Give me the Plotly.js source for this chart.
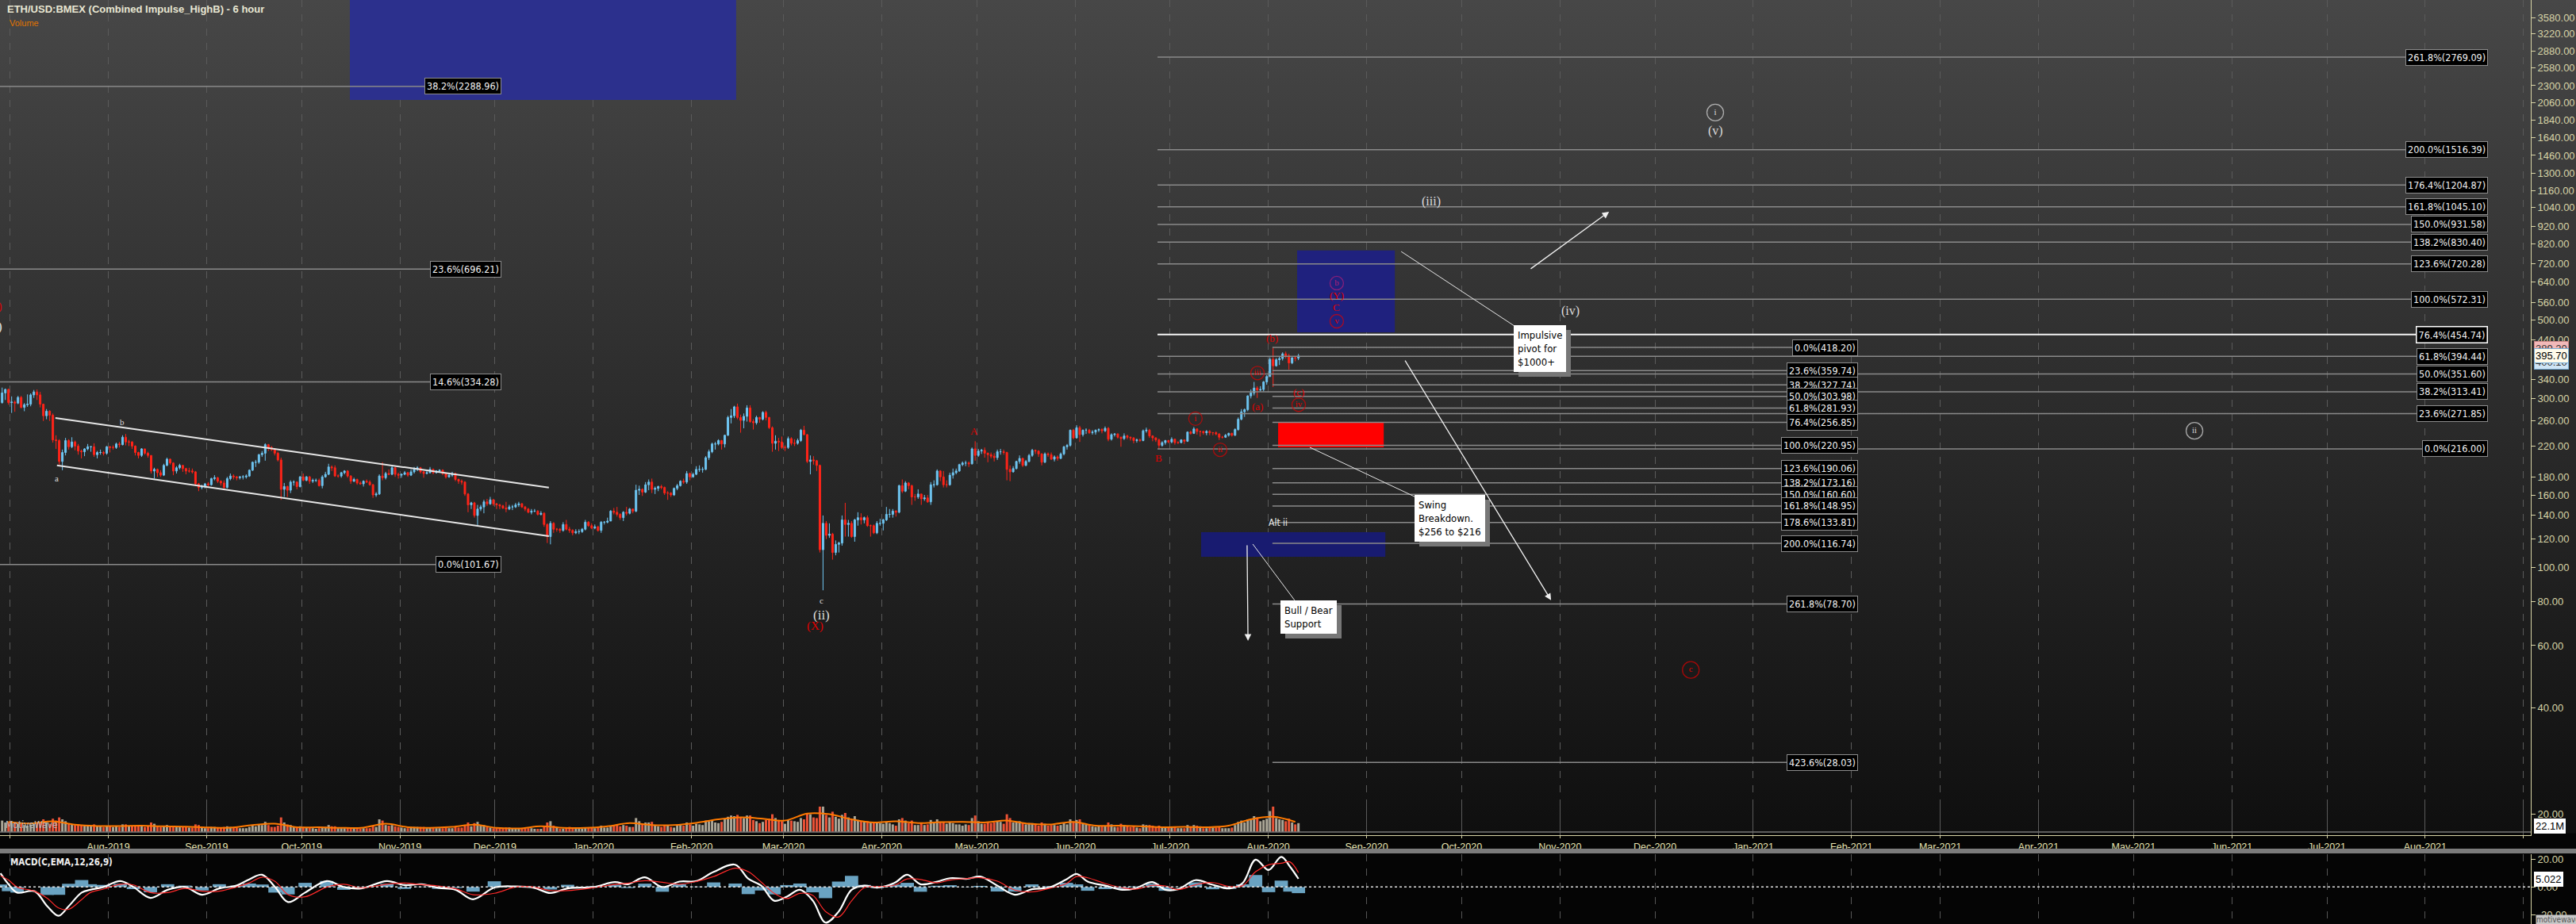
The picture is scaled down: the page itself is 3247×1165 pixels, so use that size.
<!DOCTYPE html>
<html><head><meta charset="utf-8">
<script src="https://cdn.plot.ly/plotly-3.0.1.min.js"></script>
<style>
html,body{margin:0;padding:0;}
body{width:3247px;height:1165px;overflow:hidden;background:linear-gradient(to bottom,#474747 0px,#0f0f0f 1050px,#050505 1051px,#050505 1165px);}
#chart{width:3247px;height:1165px;}
</style></head><body><div id="chart"></div>
<script>
// ---------------- DATA (daily candles) ----------------
const candleStart = '2019-06-28';
const open = [
292,311,318,
292,293,291,302,283,288,289,307,313,307,289,268,276,269,229,228,199,211,228,219,226,220,213,212,216,219,219,208,211,211,210,
219,218,218,223,222,233,226,226,220,211,207,216,210,207,187,189,185,182,194,202,197,187,191,194,190,187,187,186,172,168,169,
172,171,178,179,175,173,168,178,181,180,179,180,180,181,188,198,198,208,210,222,218,215,210,201,166,169,165,174,174,169,
180,176,180,175,176,176,170,180,183,192,191,181,181,185,187,181,175,177,173,172,175,174,171,160,161,181,179,184,183,191,183,
182,183,185,182,186,189,191,186,184,185,189,185,187,188,184,180,182,184,177,175,174,161,150,152,140,146,148,153,151,155,
151,150,149,147,146,148,148,150,151,148,146,143,144,144,141,142,132,122,133,128,128,127,132,128,127,125,126,126,128,134,131,
129,130,127,134,134,135,144,143,141,138,143,142,146,144,165,166,163,171,174,166,167,169,168,162,162,160,167,170,175,174,184,
180,183,189,189,189,204,212,223,223,228,223,236,265,268,284,265,260,267,282,258,256,265,262,274,265,248,224,227,226,
218,218,231,224,224,228,244,237,199,201,200,194,112,133,123,124,110,116,117,136,132,133,122,136,138,136,138,131,131,125,133,
133,136,141,141,144,143,170,164,173,170,158,158,161,156,157,153,171,171,187,180,171,171,182,185,187,195,197,197,196,216,
207,213,214,210,208,206,204,212,212,211,189,186,190,199,203,194,199,207,214,213,209,198,209,208,202,205,203,209,219,221,244,
232,248,237,244,244,240,241,244,245,243,247,230,237,238,233,231,235,233,232,228,229,228,243,244,235,232,229,221,225,228,
226,230,225,225,229,227,241,239,246,242,242,240,242,240,240,238,233,233,236,239,236,245,262,275,279,305,311,321,317,318,334,
346,387,371,386,389,401,396,378,391,390];
const high = [
322,320,320,
304,296,305,305,291,308,310,317,318,313,290,280,278,272,236,230,215,232,230,233,228,223,215,217,223,220,224,213,215,213,220,
220,221,225,226,236,238,229,227,221,212,217,216,212,207,191,190,188,196,204,203,198,193,196,194,191,191,190,187,173,171,173,
174,179,182,180,176,176,180,184,183,181,181,182,183,189,199,201,209,213,224,223,220,217,212,204,173,170,176,176,175,181,
184,181,181,178,178,178,182,186,196,194,194,183,186,188,188,182,179,178,175,176,177,176,172,163,183,198,186,189,193,192,185,
184,187,186,189,192,193,192,187,187,192,190,188,189,189,185,183,186,185,178,177,175,162,153,153,150,150,155,156,158,156,
152,151,150,153,150,150,152,153,152,149,147,146,146,145,144,143,133,135,134,129,129,134,136,130,128,128,128,129,136,135,133,
132,131,135,135,138,145,147,148,142,144,148,147,146,171,170,167,174,177,178,169,170,171,169,164,163,168,172,176,178,187,185,
185,193,194,192,206,215,225,226,230,229,237,268,280,286,290,270,272,287,287,262,268,266,276,277,266,250,236,232,234,
221,234,233,230,231,246,251,238,207,206,201,195,140,135,133,125,119,118,140,152,136,135,137,143,142,139,140,132,132,135,137,
137,148,146,146,145,171,177,175,174,171,161,166,161,160,160,174,176,189,188,187,176,185,190,190,196,199,200,199,218,227,
216,216,218,211,211,210,215,216,215,212,194,193,200,207,204,201,209,216,215,214,210,211,211,211,207,207,211,220,223,245,246,
252,251,245,247,246,244,245,247,247,250,249,239,239,239,234,239,237,234,233,231,231,245,248,246,236,233,231,227,229,229,
233,231,227,230,229,242,243,249,247,243,243,244,244,241,242,239,235,238,240,240,247,265,280,281,306,318,334,325,325,336,349,
392,418,390,395,405,407,401,392,395,401];
const low = [
290,297,288,
273,275,289,281,276,284,285,301,297,283,259,262,259,225,216,195,188,207,215,217,214,208,203,206,214,212,205,203,208,207,208,
211,215,216,218,221,221,220,216,207,203,205,208,204,184,178,180,180,181,193,195,182,184,189,186,183,185,184,170,164,166,167,
169,170,176,173,170,165,167,176,177,176,177,177,178,180,187,192,196,205,200,213,213,207,199,155,158,158,162,170,166,168,
175,175,172,173,174,169,167,179,182,187,180,179,179,183,179,172,174,171,171,169,173,170,157,158,160,176,177,182,182,180,178,
179,182,180,181,184,187,184,179,183,184,183,184,185,182,178,179,180,175,172,171,159,143,146,138,131,144,142,149,150,149,
146,146,146,143,145,145,147,148,147,144,142,141,143,140,140,130,117,116,125,126,125,126,127,125,123,124,124,125,127,130,128,
128,126,125,132,133,135,141,139,136,135,140,141,142,143,160,159,162,165,162,161,164,166,160,155,158,159,165,169,172,172,176,
179,182,186,185,188,201,210,215,221,215,218,235,255,264,262,240,247,258,256,245,253,256,260,260,246,212,215,213,216,
213,216,221,220,222,226,236,197,183,195,187,110,86,120,121,105,108,110,115,122,122,121,118,131,132,133,130,122,124,124,131,
127,135,138,138,139,142,162,163,166,150,154,156,150,154,152,150,168,170,175,168,168,170,178,183,186,193,193,192,195,200,
205,209,204,198,203,199,201,208,208,176,175,185,189,196,192,193,198,205,209,205,194,197,205,201,199,200,202,207,215,219,230,
231,226,234,238,238,237,237,241,239,241,227,228,234,231,219,229,230,228,224,225,226,227,240,232,227,226,216,219,222,224,
224,222,223,224,223,226,237,238,237,234,237,236,236,236,236,229,231,232,234,234,235,243,260,266,276,300,306,301,314,314,328,
345,323,369,373,384,389,362,375,382,385];
const close = [
311,318,292,
293,291,302,283,288,289,307,313,307,289,268,276,269,229,228,199,211,228,219,226,220,213,212,216,219,219,208,211,211,210,219,
218,218,223,222,233,226,226,220,211,207,216,210,207,187,189,185,182,194,202,197,187,191,194,190,187,187,186,172,168,169,172,
171,178,179,175,173,168,178,181,180,179,180,180,181,188,198,198,208,210,222,218,215,210,201,166,169,165,174,174,169,180,
176,180,175,176,176,170,180,183,192,191,181,181,185,187,181,175,177,173,172,175,174,171,160,161,181,179,184,183,191,183,182,
183,185,182,186,189,191,186,184,185,189,185,187,188,184,180,182,184,177,175,174,161,150,152,140,146,148,153,151,155,151,
150,149,147,146,148,148,150,151,148,146,143,144,144,141,142,132,122,133,128,128,127,132,128,127,125,126,126,128,134,131,129,
130,127,134,134,135,144,143,141,138,143,142,146,144,165,166,163,171,174,166,167,169,168,162,162,160,167,170,175,174,184,180,
183,189,189,189,204,212,223,223,228,223,236,265,268,284,265,260,267,282,258,256,265,262,274,265,248,224,227,226,218,
218,231,224,224,228,244,237,199,201,200,194,112,133,123,124,110,116,117,136,132,133,122,136,138,136,138,131,131,125,133,133,
136,141,141,144,143,170,164,173,170,158,158,161,156,157,153,171,171,187,180,171,171,182,185,187,195,197,197,196,216,207,
213,214,210,208,206,204,212,212,211,189,186,190,199,203,194,199,207,214,213,209,198,209,208,202,205,203,209,219,221,244,232,
248,237,244,244,240,241,244,245,243,247,230,237,238,233,231,235,233,232,228,229,228,243,244,235,232,229,221,225,228,226,
230,225,225,229,227,241,239,246,242,242,240,242,240,240,238,233,233,236,239,236,245,262,275,279,305,311,321,317,318,334,346,
387,371,386,389,401,396,378,391,390,395.7];
const volume = [
180,150,160,
170,140,130,150,110,100,120,130,140,160,200,150,130,210,180,230,200,170,130,120,110,120,100,100,110,90,120,100,90,80,100,
90,80,90,80,120,120,90,90,100,90,90,80,90,150,130,100,80,100,110,90,100,80,80,80,80,70,70,120,110,70,60,
60,80,80,70,70,80,90,80,70,70,60,60,60,80,110,90,120,110,160,110,80,80,100,230,150,120,110,80,70,90,
80,70,70,60,50,60,80,80,110,90,90,60,60,60,70,70,60,60,50,60,60,60,100,80,200,180,110,100,110,90,80,
70,60,60,80,80,80,80,80,60,70,70,60,60,60,70,60,60,80,70,70,110,150,90,140,160,100,110,80,70,60,
60,60,60,70,70,60,50,60,60,60,60,60,50,50,50,90,150,170,100,70,50,50,70,80,60,50,60,50,70,70,70,
60,70,100,70,70,100,110,120,90,110,100,80,80,220,170,130,150,150,160,100,90,80,100,110,80,70,110,120,100,150,120,
100,130,120,110,180,170,180,150,140,160,200,240,260,250,270,230,220,260,260,190,170,140,160,190,210,280,220,190,170,
130,190,180,170,160,220,200,300,280,230,220,450,500,270,230,320,240,210,270,300,230,200,250,190,170,170,170,150,140,150,140,
130,150,140,120,100,200,220,180,140,180,110,110,140,110,120,190,150,200,160,160,130,150,140,120,120,100,120,110,220,260,
170,130,130,150,140,150,170,160,130,280,220,150,160,170,140,120,140,140,120,100,150,130,100,110,110,100,110,140,120,200,160,
190,200,130,120,110,90,80,90,90,100,150,120,80,80,130,110,90,80,90,70,60,120,110,110,100,80,100,70,70,70,
80,80,60,60,60,110,90,110,100,90,60,60,80,70,70,80,60,60,60,70,110,160,180,150,200,190,250,230,170,190,210,
330,400,220,200,190,170,210,150,120,140];
const volMAStart = '2019-06-30';
const volMA = [160,135,170,115,95,95,100,90,85,72,68,110,130,75,75,65,70,130,75,65,80,115,65,57,90,65,65,90,140,110,110,145,200,230,210,180,290,280,200,150,170,140,155,160,150,180,130,120,160,100,100,90,75,80,75,100,200,240,160];

// MACD (12,26,9)
const macdDates = ['2019-06-28 00:00','2019-06-30 12:00','2019-07-03 05:00','2019-07-08 17:00','2019-07-12 17:00','2019-07-16 07:00','2019-07-19 12:00','2019-07-23 14:00','2019-07-26 07:00','2019-07-30 10:00',
'2019-08-04 19:00','2019-08-08 22:00','2019-08-14 07:00','2019-08-19 17:00','2019-08-25 05:00','2019-08-30 14:00','2019-09-05 00:00','2019-09-10 10:00','2019-09-14 12:00','2019-09-18 12:00',
'2019-09-22 14:00','2019-09-26 17:00','2019-10-02 02:00','2019-10-08 22:00','2019-10-14 07:00','2019-10-19 19:00','2019-10-27 22:00','2019-11-02 10:00','2019-11-07 19:00','2019-11-13 05:00',
'2019-11-18 14:00','2019-11-24 02:00','2019-11-30 19:00','2019-12-07 14:00','2019-12-13 02:00','2019-12-18 12:00','2019-12-23 22:00','2020-01-01 02:00','2020-01-07 19:00','2020-01-11 22:00',
'2020-01-17 07:00','2020-01-22 19:00','2020-01-28 05:00','2020-02-02 14:00','2020-02-08 00:00','2020-02-14 19:00','2020-02-18 22:00','2020-02-23 00:00','2020-02-27 02:00','2020-03-02 02:00',
'2020-03-06 05:00','2020-03-10 07:00','2020-03-14 07:00','2020-03-18 10:00','2020-03-22 12:00','2020-03-26 12:00','2020-03-30 14:00','2020-04-05 00:00','2020-04-09 02:00','2020-04-13 05:00',
'2020-04-18 14:00','2020-04-22 14:00','2020-04-28 02:00','2020-05-02 02:00','2020-05-07 12:00','2020-05-13 00:00','2020-05-18 10:00','2020-05-23 19:00','2020-05-29 07:00','2020-06-01 12:00',
'2020-06-05 00:00','2020-06-10 12:00','2020-06-15 22:00','2020-06-20 00:00','2020-06-25 10:00','2020-06-29 12:00','2020-07-03 12:00','2020-07-09 00:00','2020-07-14 10:00','2020-07-19 19:00',
'2020-07-23 22:00','2020-07-28 00:00','2020-08-01 02:00','2020-08-05 02:00','2020-08-07 19:00','2020-08-10 12:00'];
const macdLine = [9.8,2,-4,-3,-13.7,-20.6,-13.7,-4,-2,0, 4.3,0,-7.8,-2,0,-5.5,-1,1,5.5,8.8, 0,-10.8,-4,4.3,0,-1,4.3,1.4,2,-0.6,
-2,-8.8,-0.4,0.4,-0.4,-4.3,-1,0,3.5,2, 6.9,0,3.9,4.3,10.8,16,5.9,1,-9.8,-6.9, -2,-9.8,-25.5,-17.6,-2,1,-0.4,2.9,8.8,2,
3.9,6.3,5.9,7.5,1,-5.5,-1.6,-0.4,5.5,9.4, 3.9,1,-2,-1,3.5,-2,-1.6,4.9,1.6,-1, 2.9,19.6,12.2,21.6,14.7,5.9];
const signalLine = [8,5,0,-3,-8,-15,-16,-9,-4,-1.5, 2,1.5,-4,-4,-1,-3,-3,0,3,7, 4,-5.5,-7,0,2,-0.5,2,2.8,1.7,0.7,
-1.3,-5.5,-4.5,0,0,-2.5,-2.6,-0.5,1.8,2.7, 4.5,3.4,2,4,7.5,13.5,11,3.5,-4.5,-8.3, -4.5,-6,-17.5,-21.5,-10,-0.5,0.3,1.2,5.8,5.4,
3,5,6.1,6.7,4.2,-2.2,-3.5,-1,2.5,7.5, 6.6,2.5,-0.5,-1.5,1.2,0.7,-1.8,1.6,3.2,0.3, 1,11,15.9,17,18,10.3];
const macdHist = [1.8,-3,-4,0,-5.7,-5.6,2.3,5,2,1.5, 2.3,-1.5,-3.8,2,1,-2.5,2,1,2.5,1.8, -4,-5.3,3,4.3,-2,-0.5,2.3,-1.4,0.3,-1.3,
-0.7,-3.3,4.1,0.4,-0.4,-1.8,1.6,0.5,1.7,-0.7, 2.4,-3.4,1.9,0.3,3.3,2.5,-5.1,-2.5,-5.3,1.4, 2.5,-3.8,-8,3.9,8,1.5,-0.7,1.7,3,-3.4,
0.9,1.3,-0.2,0.8,-3.2,-3.3,1.9,0.6,3,1.9, -2.7,-1.5,-1.5,0.5,2.3,-2.7,0.2,3.3,-1.6,-1.3, 1.9,8.6,-3.7,4.6,-3.3,-4.4];

// Fibonacci sets
const fibA_pct = ['38.2%','23.6%','14.6%','0.0%'];
const fibA_val = [2288.96,696.21,334.28,101.67];
const fibB_pct = ['0.0%','23.6%','38.2%','50.0%','61.8%','76.4%','100.0%','123.6%','138.2%','150.0%','161.8%','178.6%','200.0%','261.8%','423.6%'];
const fibB_val = [418.20,359.74,327.74,303.98,281.93,256.85,220.95,190.06,173.16,160.60,148.95,133.81,116.74,78.70,28.03];
const fibC_pct = ['261.8%','200.0%','176.4%','161.8%','150.0%','138.2%','123.6%','100.0%','76.4%','61.8%','50.0%','38.2%','23.6%','0.0%'];
const fibC_val = [2769.09,1516.39,1204.87,1045.10,931.58,830.40,720.28,572.31,454.74,394.44,351.60,313.41,271.85,216.00];

// axis ticks
const priceTicks = [3580,3220,2880,2580,2300,2060,1840,1640,1460,1300,1160,1040,920,820,720,640,560,500,440,340,300,260,220,180,160,140,120,100,80,60,40,20];
const monthTicks = ['2019-07-01','2019-08-01','2019-09-01','2019-10-01','2019-11-01','2019-12-01','2020-01-01','2020-02-01','2020-03-01','2020-04-01','2020-05-01','2020-06-01','2020-07-01','2020-08-01','2020-09-01','2020-10-01','2020-11-01','2020-12-01','2021-01-01','2021-02-01','2021-03-01','2021-04-01','2021-05-01','2021-06-01','2021-07-01','2021-08-01','2021-09-01'];
const monthLabels = ['','Aug-2019','Sep-2019','Oct-2019','Nov-2019','Dec-2019','Jan-2020','Feb-2020','Mar-2020','Apr-2020','May-2020','Jun-2020','Jul-2020','Aug-2020','Sep-2020','Oct-2020','Nov-2020','Dec-2020','Jan-2021','Feb-2021','Mar-2021','Apr-2021','May-2021','Jun-2021','Jul-2021','Aug-2021',''];

// zones (time from / to, price from / to)
const zoneName  = ['upperLeft','target','swing','support'];
const zoneT0    = ['2019-10-16 05:00','2020-08-10 02:00','2020-08-04 02:00','2020-07-10 19:00'];
const zoneT1    = ['2020-02-15 02:00','2020-09-09 22:00','2020-09-06 10:00','2020-09-06 22:00'];
const zoneP0    = [2096,461.4,218.2,107];
const zoneP1    = [4100,786,256.1,125.6];
const zoneColor = ['rgb(44,48,141)','rgb(31,33,126)','#ff0000','rgb(24,27,112)'];

// wave labels
const waveText = ['(iii)','(v)','(iv)','(ii)','c','(X)','a','b','A','B','(a)','(b)','(c)','(Y)','C'];
const waveDate = ['2020-09-21 10:00','2020-12-20 00:00','2020-11-04 05:00','2020-03-13 02:00','2020-03-13 02:00','2020-03-10 22:00','2019-07-15 19:00','2019-08-05 10:00','2020-04-30 05:00','2020-06-27 12:00','2020-07-28 14:00','2020-08-02 07:00','2020-08-10 14:00','2020-08-22 14:00','2020-08-22 14:00'];
const waveP = [1082,1714,530.6,73,80.6,68,178,257,243,204,284,445,313,588,541.6];
const waveColor = ['#dcdcdc','#dcdcdc','#dcdcdc','#dcdcdc','#dcdcdc','#e00000','#dcdcdc','#dcdcdc','#e00000','#e00000','#e00000','#e00000','#e00000','#e00000','#e00000'];
const waveSize = [16,16,16,17,11,15,11,11,13,13,13,13,13,13,13];

const circText = ['i','ii','i','ii','iii','iv','b','v','c'];
const circDate = ['2020-12-20 00:00','2021-05-20 05:00','2020-07-09 00:00','2020-07-16 19:00','2020-07-28 14:00','2020-08-10 14:00','2020-08-22 14:00','2020-08-22 14:00','2020-12-12 07:00'];
const circP = [1931,243,263,214.8,354,288,635.7,496,51.2];
const circColor = ['#dcdcdc','#dcdcdc','#e00000','#e00000','#e00000','#e00000','#b0207a','#e00000','#e00000'];

// ---------------- BUILD ----------------
const NARROW = '"Liberation Sans Narrow","DejaVu Sans Condensed","Arial Narrow",sans-serif';
const SANS = '"Liberation Sans",Arial,sans-serif';
const SERIF = '"Liberation Serif","DejaVu Serif",serif';
const L = v => Math.log10(v);
const DAY = 86400000;

const t0 = Date.parse(candleStart + 'T12:00:00Z');
const cDates = close.map((_, i) => new Date(t0 + i * DAY).toISOString().slice(0, 16).replace('T', ' '));
const m0 = Date.parse(volMAStart + 'T12:00:00Z');
const maDates = volMA.map((_, i) => new Date(m0 + i * 7 * DAY).toISOString().slice(0, 16).replace('T', ' '));
if (![open, high, low, volume].every(a => a.length === close.length)) console.error('length mismatch', open.length, high.length, low.length, close.length, volume.length);

const X0 = '2019-06-27 19:42', X1 = '2021-09-03 07:40';
const traces = [];

// zones
zoneName.forEach((n, i) => {
  traces.push({type: 'scatter', mode: 'lines', x: [zoneT0[i], zoneT1[i], zoneT1[i], zoneT0[i], zoneT0[i]],
    y: [zoneP0[i], zoneP0[i], zoneP1[i], zoneP1[i], zoneP0[i]], fill: 'toself', fillcolor: zoneColor[i],
    line: {width: 0, color: zoneColor[i]}, hoverinfo: 'skip', name: n});
});

// fib lines
function fibLines(vals, xs, xe, color, width) {
  const x = [], y = [];
  vals.forEach(v => { x.push(xs, xe, null); y.push(v, v, null); });
  return {type: 'scatter', mode: 'lines', x, y, line: {color, width}, hoverinfo: 'skip'};
}
const A_S = X0, A_E = '2019-12-03 00:00';
const B_S = '2020-08-02 07:00', B_E = '2021-02-03 02:00';
const C_S = '2020-06-27 00:45', C_E = '2021-08-20 19:00';
traces.push(fibLines(fibA_val, A_S, A_E, '#8a8a8a', 1.5));
traces.push(fibLines(fibB_val, B_S, B_E, '#8a8a8a', 1.5));
traces.push(fibLines(fibC_val.filter((v, i) => fibC_pct[i] !== '76.4%'), C_S, C_E, '#8a8a8a', 1.5));
traces.push(fibLines([fibC_val[fibC_pct.indexOf('76.4%')]], C_S, C_E, '#f4f4f4', 2));

// channel
traces.push({type: 'scatter', mode: 'lines', x: ['2019-07-15 07:00', '2019-12-18 00:00', null, '2019-07-15 19:00', '2019-12-18 00:00'],
  y: [264.2, 167.8, null, 193.9, 122.4], line: {color: '#e6e6e6', width: 2}, hoverinfo: 'skip'});
// connectors
traces.push({type: 'scatter', mode: 'lines',
  x: ['2020-09-11 22:00', '2020-10-18 00:00', null, '2020-08-14 02:00', '2020-09-16 14:00', null, '2020-07-27 02:00', '2020-08-09 07:00'],
  y: [781, 478.6, null, 218.2, 157.6, null, 116.2, 80.6], line: {color: '#e6e6e6', width: 1}, hoverinfo: 'skip'});

// candles
traces.push({type: 'candlestick', x: cDates, open, high, low, close, xaxis: 'x', yaxis: 'y',
  increasing: {line: {color: '#6fc6f2', width: 1}, fillcolor: '#6fc6f2'},
  decreasing: {line: {color: '#ff2419', width: 1}, fillcolor: '#ff2419'},
  whiskerwidth: 0, hoverinfo: 'skip'});

// volume
traces.push({type: 'bar', x: cDates, y: volume, xaxis: 'x', yaxis: 'y3', width: 0.75 * DAY,
  marker: {color: close.map((c, i) => c >= open[i] ? '#aaa596' : '#ea5236'), line: {width: 0}}, hoverinfo: 'skip'});
traces.push({type: 'scatter', mode: 'lines', x: maDates, y: volMA, xaxis: 'x', yaxis: 'y3',
  line: {color: '#ff7a00', width: 2, shape: 'spline'}, hoverinfo: 'skip'});

// MACD
traces.push({type: 'bar', x: macdDates, y: macdHist, xaxis: 'x2', yaxis: 'y2', width: 4.2 * DAY,
  marker: {color: '#6aa3c2', line: {width: 0}}, hoverinfo: 'skip'});
traces.push({type: 'scatter', mode: 'lines', x: macdDates, y: macdLine, xaxis: 'x2', yaxis: 'y2',
  line: {color: '#ffffff', width: 2.2, shape: 'spline'}, hoverinfo: 'skip'});
traces.push({type: 'scatter', mode: 'lines', x: macdDates, y: signalLine, xaxis: 'x2', yaxis: 'y2',
  line: {color: '#ff2a2a', width: 1.2, shape: 'spline'}, hoverinfo: 'skip'});

// circled labels
traces.push({type: 'scatter', mode: 'markers+text', x: circDate, y: circP, text: circText,
  textposition: 'middle center', textfont: {family: SERIF, size: 11, color: circColor},
  marker: {symbol: 'circle-open', size: circText.map((t, i) => (i < 2 || i === 8) ? 21 : 17), color: circColor, line: {width: 1.3, color: circColor}},
  hoverinfo: 'skip', cliponaxis: false});

// ---------------- ANNOTATIONS ----------------
const ann = [];
function fibLabel(txt, x, v, strong) {
  ann.push({x, y: L(v), xref: 'x', yref: 'y', text: txt, showarrow: false, xanchor: 'right', yanchor: 'middle',
    font: {family: NARROW, size: 12.5, color: '#f2f2f2'}, bgcolor: '#000', bordercolor: strong ? '#ffffff' : '#8c8c8c',
    borderwidth: strong ? 1.5 : 1, borderpad: 2});
}
fibA_val.forEach((v, i) => fibLabel(fibA_pct[i] + '(' + v.toFixed(2) + ')', A_E, v));
fibB_val.forEach((v, i) => fibLabel(fibB_pct[i] + '(' + v.toFixed(2) + ')', B_E, v));
fibC_val.forEach((v, i) => fibLabel(fibC_pct[i] + '(' + v.toFixed(2) + ')', C_E, v, fibC_pct[i] === '76.4%'));

waveText.forEach((t, i) => ann.push({x: waveDate[i], y: L(waveP[i]), xref: 'x', yref: 'y', text: t, showarrow: false,
  font: {family: SERIF, size: waveSize[i], color: waveColor[i]}}));
ann.push({x: '2020-08-04 02:00', y: L(133.6), xref: 'x', yref: 'y', text: 'Alt ii', showarrow: false,
  font: {family: NARROW, size: 12, color: '#e8e8e8'}});
// cut-off labels at the left edge
ann.push({x: 0, xref: 'paper', xanchor: 'right', xshift: 5, y: L(544.5), yref: 'y', text: '(v)', showarrow: false, font: {family: SERIF, size: 14, color: '#e00000'}});
ann.push({x: 0, xref: 'paper', xanchor: 'right', xshift: 5, y: L(478.6), yref: 'y', text: '(v)', showarrow: false, font: {family: SERIF, size: 16, color: '#e8e8e8'}});

// note boxes with shadow
function note(txt, x, p) {
  const base = {x, y: L(p), xref: 'x', yref: 'y', text: txt, showarrow: false, xanchor: 'left', yanchor: 'top', align: 'left',
    borderpad: 4, font: {family: NARROW, size: 13}};
  ann.push(Object.assign({}, base, {bgcolor: '#777777', bordercolor: '#777777', xshift: 6, yshift: -6, font: {family: NARROW, size: 13, color: '#777777'}}));
  ann.push(Object.assign({}, base, {bgcolor: '#ffffff', bordercolor: '#ffffff', font: {family: NARROW, size: 13, color: '#000'}}));
}
note('Impulsive<br>pivot for<br>$1000+', '2020-10-17 10:00', 483.5);
note('Swing<br>Breakdown.<br>$256 to $216', '2020-09-16 02:00', 160);
note('Bull / Bear<br>Support', '2020-08-04 19:00', 80.6);

// arrows
function arrow(xh, ph, xt, pt) {
  ann.push({x: xh, y: L(ph), ax: xt, ay: L(pt), xref: 'x', yref: 'y', axref: 'x', ayref: 'y', text: '', showarrow: true,
    arrowhead: 2, arrowsize: 1.3, arrowwidth: 1.3, arrowcolor: '#f0f0f0', standoff: 0, startstandoff: 0});
}
arrow('2020-11-16 12:00', 1011.7, '2020-10-22 10:00', 694);
arrow('2020-10-29 05:00', 80.6, '2020-09-12 22:00', 387);
arrow('2020-07-25 14:00', 61.9, '2020-07-25 07:00', 116.2);

// title & misc text
const PW = 3190;
ann.push({x: 7 / PW, y: 1 - 12 / 1165, xref: 'paper', yref: 'paper', xanchor: 'left', yanchor: 'middle', showarrow: false,
  text: '<b>ETH/USD:BMEX (Combined Impulse_HighB) - 6 hour</b>', font: {family: SANS, size: 13, color: '#e8e6d2'}});
ann.push({x: 10 / PW, y: 1 - 29 / 1165, xref: 'paper', yref: 'paper', xanchor: 'left', yanchor: 'middle', showarrow: false,
  text: 'Volume', font: {family: SANS, size: 11, color: '#e07400'}});
ann.push({x: 5 / PW, y: (1165 - 1040) / 1165, xref: 'paper', yref: 'paper', xanchor: 'left', yanchor: 'middle', showarrow: false,
  text: 'MotiveWave', font: {family: NARROW, size: 12, color: '#b8b8b8'}});
ann.push({x: 11 / PW, y: (1165 - 1087) / 1165, xref: 'paper', yref: 'paper', xanchor: 'left', yanchor: 'middle', showarrow: false,
  text: '<b>MACD(C,EMA,12,26,9)</b>', font: {family: NARROW, size: 11.5, color: '#f0f0f0'}});
// axis tags
function tag(txt, y, yref, bg, col, bc, ysh) {
  ann.push({x: 3194 / PW, y, xref: 'paper', yref, xanchor: 'left', yanchor: 'middle', showarrow: false, text: txt, yshift: ysh || 0,
    font: {family: SANS, size: 13, color: col}, bgcolor: bg, bordercolor: bc, borderwidth: 1, borderpad: 1});
}
tag('389.20', L(395.7), 'y', '#f2b9b9', '#333', '#c88', 9);
tag('400.10', L(395.7), 'y', '#cfe5f5', '#333', '#7ab0d8', -8);
tag('395.70', L(395.7), 'y', '#fffbea', '#000', '#7ab0d8');
tag('22.1M', (1165 - 1041) / 1165, 'paper', '#ffffff', '#000', '#ffffff');
tag('5.022', (1165 - 1108) / 1165, 'paper', '#ffffff', '#000', '#ffffff');
ann.push({x: 3196 / PW, y: (1165 - 1159) / 1165, xref: 'paper', yref: 'paper', xanchor: 'left', yanchor: 'middle', showarrow: false,
  text: 'motivewave.com', font: {family: NARROW, size: 10, color: '#555'}, bgcolor: '#c8c8c8', borderpad: 0});

// ---------------- LAYOUT ----------------
const CREAM = '#d8d4a6';
const layout = {
  width: 3247, height: 1165, margin: {l: 0, r: 57, t: 0, b: 0},
  paper_bgcolor: 'rgba(0,0,0,0)', plot_bgcolor: 'rgba(0,0,0,0)',
  showlegend: false, hovermode: false, dragmode: false, bargap: 0.2,
  xaxis: {type: 'date', range: [X0, X1], domain: [0, 1], anchor: 'y', rangeslider: {visible: false},
    tickmode: 'array', tickvals: monthTicks, ticktext: monthLabels,
    tickfont: {family: SANS, size: 12.5, color: '#e6e2b0'}, ticks: 'outside', ticklen: 3, tickcolor: CREAM,
    showgrid: true, gridcolor: '#5a5a5a', griddash: 'dash', gridwidth: 1,
    showline: true, linecolor: CREAM, linewidth: 1, zeroline: false, fixedrange: true},
  yaxis: {type: 'log', range: [1.24193, 3.60397], domain: [1 - 1053 / 1165, 1], anchor: 'x', side: 'right',
    tickmode: 'array', tickvals: priceTicks, ticktext: priceTicks.map(v => v.toFixed(2)),
    tickfont: {family: SANS, size: 13, color: CREAM}, ticks: 'outside', ticklen: 5, tickcolor: CREAM,
    showgrid: false, showline: true, linecolor: CREAM, linewidth: 1, zeroline: false, fixedrange: true},
  xaxis2: {type: 'date', range: [X0, X1], domain: [0, 1], anchor: 'y2', tickmode: 'array', tickvals: monthTicks,
    showticklabels: false, ticks: '', showgrid: true, gridcolor: '#555', griddash: 'dash', showline: false, zeroline: false, fixedrange: true},
  yaxis2: {range: [-26.5, 23.5], domain: [0, (1165 - 1077) / 1165], anchor: 'x2', side: 'right',
    tickmode: 'array', tickvals: [20, 0, -20], ticktext: ['20.00', '0.00', '-20.00'],
    tickfont: {family: SANS, size: 13, color: CREAM}, ticks: 'outside', ticklen: 5, tickcolor: CREAM,
    showgrid: false, showline: true, linecolor: CREAM, zeroline: false, fixedrange: true},
  yaxis3: {range: [0, 400], domain: [(1165 - 1049) / 1165, (1165 - 1017) / 1165], anchor: 'x', visible: false, fixedrange: true},
  shapes: [
    {type: 'rect', xref: 'paper', yref: 'paper', x0: -0.01, x1: 1.02, y0: (1165 - 1076) / 1165, y1: (1165 - 1070) / 1165,
      fillcolor: '#7c7c7c', line: {width: 0}},
    {type: 'line', xref: 'paper', yref: 'paper', x0: 0, x1: 1, y0: (1165 - 1049) / 1165, y1: (1165 - 1049) / 1165,
      line: {color: '#777', width: 1.5}},
    {type: 'line', xref: 'paper', yref: 'y2', x0: 0, x1: 1, y0: 0, y1: 0, line: {color: '#e0e0e0', width: 1.5, dash: 'dot'}}
  ],
  annotations: ann
};

Plotly.newPlot('chart', traces, layout, {displayModeBar: false, staticPlot: true});
</script></body></html>
